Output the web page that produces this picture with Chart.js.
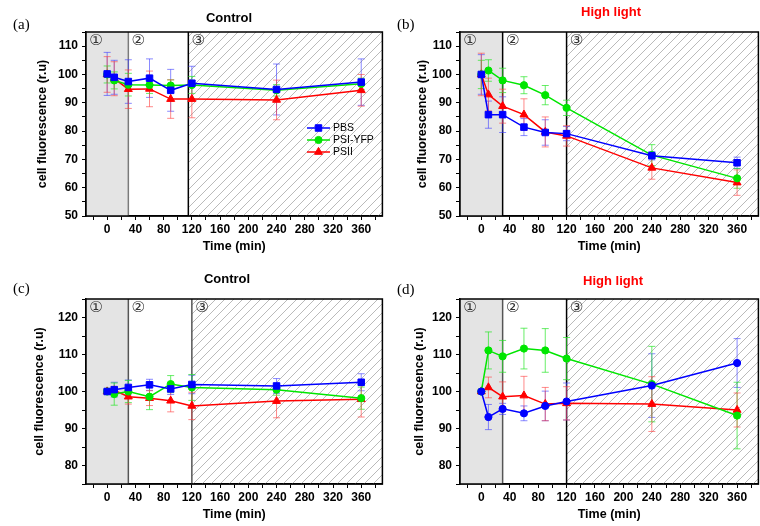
<!DOCTYPE html>
<html>
<head>
<meta charset="utf-8">
<title>Cell fluorescence</title>
<script src="https://cdn.jsdelivr.net/npm/chart.js@4.4.1/dist/chart.umd.min.js"></script>
<style>
  body { margin: 0; background: #fff; }
  #wrap { position: relative; width: 760px; height: 526px; overflow: hidden; }
  #wrap canvas { position: absolute; }
  .lbl { position: absolute; font-family: 'Liberation Serif', serif; font-size: 15px; line-height: 17px; color: #000; }
  .ttl { position: absolute; font-family: 'Liberation Sans', Arial, sans-serif; font-weight: bold; font-size: 13px;
         line-height: 15px; transform: translateX(-50%); white-space: nowrap; color: #000; }
  .ttl.red { color: #ff0000; }
</style>
</head>
<body>
<div id="wrap">
  <canvas id="chartA" width="388" height="263" style="left:0;top:0"></canvas>
  <canvas id="chartB" width="384" height="263" style="left:380px;top:0"></canvas>
  <canvas id="chartC" width="388" height="263" style="left:0;top:263px"></canvas>
  <canvas id="chartD" width="384" height="263" style="left:380px;top:263px"></canvas>

  <div class="lbl" style="left:13px;top:16px">(a)</div>
  <div class="lbl" style="left:397px;top:16px">(b)</div>
  <div class="lbl" style="left:13px;top:280px">(c)</div>
  <div class="lbl" style="left:397px;top:281px">(d)</div>

  <div class="ttl" style="left:229px;top:10px">Control</div>
  <div class="ttl red" style="left:611px;top:4px">High light</div>
  <div class="ttl" style="left:227px;top:271px">Control</div>
  <div class="ttl red" style="left:613px;top:273px">High light</div>
</div>

<script>
// sampling times (min)
const times = [0, 10, 30, 60, 90, 120, 240, 360];

// x axis ticks, every 20 min, labelled every 40
const xTicks = [-20, 0, 20, 40, 60, 80, 100, 120, 140, 160, 180, 200, 220, 240, 260, 280, 300, 320, 340, 360, 380];
const xTickLabels = [0, 40, 80, 120, 160, 200, 240, 280, 320, 360];

// y axis ticks (top row 50-115, bottom row 75-125)
const yTicksTop = [50, 55, 60, 65, 70, 75, 80, 85, 90, 95, 100, 105, 110, 115];
const yTickLabelsTop = [50, 60, 70, 80, 90, 100, 110];
const yTicksBottom = [75, 80, 85, 90, 95, 100, 105, 110, 115, 120, 125];
const yTickLabelsBottom = [80, 90, 100, 110, 120];

// phase boundaries (min) and labels
const phaseBoundsA = [30, 115];
const phaseBounds = [30, 120];
const phaseLabels = ['\u2460', '\u2461', '\u2462'];

const seriesNames = ['PBS', 'PSI-YFP', 'PSII'];

// (a) Control
const pbsA = [100.2, 99.0, 97.5, 98.7, 94.4, 96.9, 94.7, 97.3];
const pbsAErr = [7.6, 6.0, 7.7, 6.8, 7.4, 6.0, 9.0, 8.2];
const yfpA = [100.0, 97.9, 96.4, 96.3, 96.1, 96.3, 94.4, 96.7];
const yfpAErr = [3.0, 3.0, 4.0, 3.0, 2.0, 3.0, 2.0, 2.0];
const psiiA = [100.0, 98.5, 94.8, 94.9, 91.3, 91.3, 91.0, 94.4];
const psiiAErr = [6.3, 6.0, 6.8, 6.3, 6.8, 6.6, 7.0, 5.6];

// (b) High light
const pbsB = [100.0, 85.8, 85.8, 81.4, 79.5, 79.1, 71.3, 68.8];
const pbsBErr = [7.0, 4.8, 6.3, 3.0, 4.5, 2.5, 1.5, 2.0];
const yfpB = [100.0, 101.4, 97.9, 96.2, 92.7, 88.2, 71.5, 63.3];
const yfpBErr = [5.0, 3.8, 4.3, 3.0, 3.4, 2.7, 3.7, 3.5];
const psiiB = [100.0, 92.9, 88.8, 85.8, 79.7, 78.3, 67.0, 61.8];
const psiiBErr = [7.5, 5.8, 6.0, 5.6, 5.3, 3.6, 4.0, 4.5];

// (c) Control
const pbsC = [100.0, 100.5, 101.1, 101.8, 100.7, 101.9, 101.5, 102.5];
const pbsCErr = [0.5, 2.0, 2.0, 1.5, 1.5, 2.5, 2.0, 2.3];
const yfpC = [100.0, 99.3, 100.0, 98.6, 102.0, 101.1, 100.5, 98.2];
const yfpCErr = [0.5, 3.0, 3.0, 3.5, 2.3, 3.5, 1.5, 3.0];
const psiiC = [100.0, 100.3, 98.6, 98.2, 97.5, 96.1, 97.4, 97.9];
const psiiCErr = [0.5, 1.0, 2.0, 2.0, 3.0, 3.7, 4.5, 4.8];

// (d) High light
const pbsD = [100.0, 93.1, 95.3, 94.1, 96.1, 97.3, 101.6, 107.7];
const pbsDErr = [0.5, 3.4, 1.5, 2.0, 4.0, 5.0, 8.6, 6.6];
const yfpD = [100.0, 111.1, 109.5, 111.6, 111.1, 108.9, 102.0, 93.5];
const yfpDErr = [0.5, 5.0, 4.3, 5.5, 5.9, 5.7, 10.2, 9.0];
const psiiD = [100.0, 101.1, 98.6, 98.9, 96.6, 96.8, 96.6, 95.0];
const psiiDErr = [0.5, 2.8, 4.0, 5.2, 4.5, 4.5, 7.4, 4.6];


Chart.defaults.font.family = "'Liberation Sans', Arial, sans-serif";
Chart.defaults.color = '#000';

const BLUE = '#0000ff', GREEN = '#00e600', RED = '#ff0000';

function hatch() {
    const c = document.createElement('canvas');
    c.width = 9; c.height = 9;
    const g = c.getContext('2d');
    g.strokeStyle = '#a8a8a8';
    g.lineWidth = 0.8;
    g.beginPath();
    g.moveTo(0, 9); g.lineTo(9, 0);
    g.moveTo(-1, 1); g.lineTo(1, -1);
    g.moveTo(8, 10); g.lineTo(10, 8);
    g.stroke();
    return c;
}
const hatchTile = hatch();

// phase shading, dividers and circled numbers
const phases = {
    id: 'phases',
    beforeDatasetsDraw(chart, args, opts) {
        const {ctx, chartArea: a, scales: {x}} = chart;
        const x1 = x.getPixelForValue(opts.bounds[0]);
        const x2 = x.getPixelForValue(opts.bounds[1]);
        ctx.save();
        ctx.fillStyle = '#e4e4e4';
        ctx.fillRect(a.left, a.top, x1 - a.left, a.bottom - a.top);
        ctx.fillStyle = ctx.createPattern(hatchTile, 'repeat');
        ctx.fillRect(x2, a.top, a.right - x2, a.bottom - a.top);

        ctx.lineWidth = 1.5;
        [x1, x2].forEach((px, i) => {
            ctx.strokeStyle = opts.colors[i];
            ctx.beginPath();
            ctx.moveTo(px, a.top);
            ctx.lineTo(px, a.bottom);
            ctx.stroke();
        });

        ctx.fillStyle = '#333';
        ctx.font = "15px 'DejaVu Sans'";
        ctx.textAlign = 'center';
        ctx.textBaseline = 'middle';
        [a.left, x1, x2].forEach((px, i) => {
            ctx.fillText(phaseLabels[i], px + 10, a.top + 9);
        });
        ctx.restore();
    }
};

// error bars from dataset.errors
const errorBars = {
    id: 'errorBars',
    beforeDatasetsDraw(chart) {
        const {ctx, scales: {y}} = chart;
        chart.data.datasets.forEach((ds, i) => {
            const meta = chart.getDatasetMeta(i);
            ctx.save();
            ctx.strokeStyle = ds.errorColor;
            ctx.lineWidth = 1;
            meta.data.forEach((pt, j) => {
                const v = ds.data[j].y, e = ds.errors[j];
                const top = y.getPixelForValue(v + e);
                const bot = y.getPixelForValue(v - e);
                ctx.beginPath();
                ctx.moveTo(pt.x, top); ctx.lineTo(pt.x, bot);
                ctx.moveTo(pt.x - 3.5, top); ctx.lineTo(pt.x + 3.5, top);
                ctx.moveTo(pt.x - 3.5, bot); ctx.lineTo(pt.x + 3.5, bot);
                ctx.stroke();
            });
            ctx.restore();
        });
    }
};

// small legend inside the plot (panel a only)
const insideLegend = {
    id: 'insideLegend',
    afterDatasetsDraw(chart, args, opts) {
        if (!opts.display) return;
        const ctx = chart.ctx;
        chart.data.datasets.forEach((ds, i) => {
            const y = opts.y + i * 12;
            ctx.save();
            ctx.strokeStyle = ds.borderColor;
            ctx.fillStyle = ds.backgroundColor;
            ctx.lineWidth = 1.5;
            ctx.beginPath();
            ctx.moveTo(opts.x, y);
            ctx.lineTo(opts.x + 23, y);
            ctx.stroke();
            ctx.lineWidth = 1;
            Chart.helpers.drawPoint(ctx, {pointStyle: ds.pointStyle, radius: ds.pointRadius, borderWidth: 1, rotation: 0}, opts.x + 11.5, y);
            ctx.fillStyle = '#000';
            ctx.font = "10.5px 'Liberation Sans', Arial, sans-serif";
            ctx.textBaseline = 'middle';
            ctx.fillText(ds.label, opts.x + 26, y + 0.5);
            ctx.restore();
        });
    }
};

// box around the plot
const frame = {
    id: 'frame',
    afterDraw(chart) {
        const {ctx, chartArea: a} = chart;
        ctx.save();
        ctx.strokeStyle = '#000';
        ctx.lineWidth = 1.5;
        ctx.strokeRect(a.left, a.top, a.right - a.left, a.bottom - a.top);
        ctx.restore();
    }
};

function series(label, values, errors, color, errColor, style) {
    return {
        label: label,
        data: times.map((t, i) => ({x: t, y: values[i]})),
        errors: errors,
        errorColor: errColor,
        borderColor: color,
        backgroundColor: color,
        borderWidth: 1.5,
        pointStyle: style,
        pointRadius: style === 'rect' ? 4.6 : (style === 'triangle' ? 4.6 : 3.6),
        pointBorderWidth: 1,
        tension: 0
    };
}

function makePanel(id, p) {
    const ctx = document.getElementById(id);
    return new Chart(ctx, {
        type: 'line',
        data: {
            datasets: [
                series(seriesNames[0], p.pbs, p.pbsErr, BLUE, 'rgba(60,60,255,0.6)', p.pbsStyle),
                series(seriesNames[1], p.yfp, p.yfpErr, GREEN, 'rgba(40,230,40,0.7)', 'circle'),
                series(seriesNames[2], p.psii, p.psiiErr, RED, 'rgba(255,60,60,0.6)', 'triangle')
            ]
        },
        options: {
            responsive: false,
            animation: false,
            devicePixelRatio: 1,
            layout: { padding: { left: 0, right: p.right, top: p.top, bottom: 0 } },
            plugins: {
                legend: { display: false },
                tooltip: { enabled: false },
                phases: { bounds: p.bounds, colors: p.dividerColors },
                insideLegend: { display: !!p.legend, x: 307, y: 128 }
            },
            scales: {
                x: {
                    type: 'linear',
                    min: -30,
                    max: 390,
                    afterBuildTicks: s => { s.ticks = xTicks.map(v => ({value: v})); },
                    afterFit: s => { s.height = p.xHeight; },
                    ticks: {
                        autoSkip: false,
                        maxRotation: 0,
                        padding: 2,
                        font: { size: 12, weight: 'bold' },
                        callback: v => xTickLabels.includes(v) ? String(v) : ''
                    },
                    grid: { drawOnChartArea: false, tickLength: 4, color: '#000' },
                    border: { color: '#000', width: 1.5 },
                    title: {
                        display: true,
                        text: 'Time (min)',
                        font: { size: 12.5, weight: 'bold' },
                        padding: { top: 0, bottom: p.xTitlePad }
                    }
                },
                y: {
                    min: p.yMin,
                    max: p.yMax,
                    afterBuildTicks: s => { s.ticks = p.yTicks.map(v => ({value: v})); },
                    afterFit: s => { s.width = p.yWidth; },
                    ticks: {
                        autoSkip: false,
                        padding: 4,
                        font: { size: 12, weight: 'bold' },
                        callback: v => p.yLabels.includes(v) ? String(v) : ''
                    },
                    grid: { drawOnChartArea: false, tickLength: 4, color: '#000' },
                    border: { color: '#000', width: 1.5 },
                    title: {
                        display: true,
                        text: 'cell fluorescence (r.u)',
                        font: { size: 12.5, weight: 'bold' },
                        padding: { top: p.yTitlePad, bottom: 0 }
                    }
                }
            }
        },
        plugins: [phases, errorBars, insideLegend, frame]
    });
}

makePanel('chartA', {
    pbs: pbsA, pbsErr: pbsAErr, yfp: yfpA, yfpErr: yfpAErr, psii: psiiA, psiiErr: psiiAErr,
    pbsStyle: 'rect', legend: true,
    bounds: phaseBoundsA, dividerColors: ['#7a7a7a', '#000'],
    yMin: 50, yMax: 115, yTicks: yTicksTop, yLabels: yTickLabelsTop,
    top: 32, right: 2, yWidth: 86, xHeight: 47, xTitlePad: 8.5, yTitlePad: 35.5
});

makePanel('chartB', {
    pbs: pbsB, pbsErr: pbsBErr, yfp: yfpB, yfpErr: yfpBErr, psii: psiiB, psiiErr: psiiBErr,
    pbsStyle: 'rect', legend: false,
    bounds: phaseBounds, dividerColors: ['#000', '#000'],
    yMin: 50, yMax: 115, yTicks: yTicksTop, yLabels: yTickLabelsTop,
    top: 32, right: 3, yWidth: 80, xHeight: 47, xTitlePad: 8.8, yTitlePad: 35.5
});

makePanel('chartC', {
    pbs: pbsC, pbsErr: pbsCErr, yfp: yfpC, yfpErr: yfpCErr, psii: psiiC, psiiErr: psiiCErr,
    pbsStyle: 'rect', legend: false,
    bounds: phaseBounds, dividerColors: ['#555', '#555'],
    yMin: 75, yMax: 125, yTicks: yTicksBottom, yLabels: yTickLabelsBottom,
    top: 36, right: 2, yWidth: 86, xHeight: 42, xTitlePad: 3.8, yTitlePad: 32.5
});

makePanel('chartD', {
    pbs: pbsD, pbsErr: pbsDErr, yfp: yfpD, yfpErr: yfpDErr, psii: psiiD, psiiErr: psiiDErr,
    pbsStyle: 'circle', legend: false,
    bounds: phaseBounds, dividerColors: ['#555', '#000'],
    yMin: 75, yMax: 125, yTicks: yTicksBottom, yLabels: yTickLabelsBottom,
    top: 36, right: 3, yWidth: 80, xHeight: 42, xTitlePad: 3.8, yTitlePad: 32.5
});
</script>
</body>
</html>
